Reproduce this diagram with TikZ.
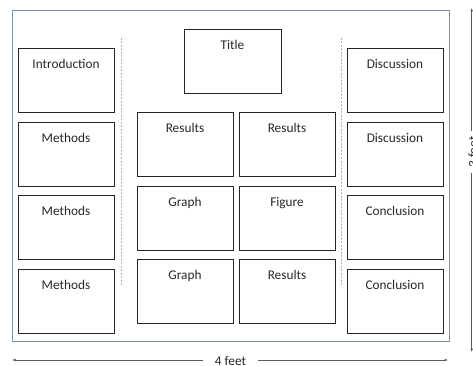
\documentclass[tikz,border=0pt]{standalone}
\usepackage{fontspec}
\setmainfont{Carlito}
\usetikzlibrary{arrows.meta}
\definecolor{framecol}{RGB}{128,146,166}
\definecolor{dimcol}{RGB}{90,90,90}
\definecolor{boxtext}{RGB}{40,40,40}
\tikzset{
  panel/.style={draw=black!85, line width=0.9pt, fill=white, anchor=north west,
    minimum width=96pt, minimum height=64pt, inner sep=0pt, outer sep=0pt},
  paneltext/.style={font=\fontsize{13.3}{16}\selectfont, text=boxtext},
  divider/.style={draw=black!30, line width=0.5pt, dash pattern=on 2pt off 1.5pt},
  dim/.style={draw=dimcol, line width=0.5pt, -{Latex[length=3.5pt,width=2.5pt]}},
  dimtext/.style={font=\fontsize{13.3}{16}\selectfont, text=boxtext}
}
\newcommand{\panelbox}[4]{%
  \node[panel] (#1) at (#2,#3) {};
  \node[paneltext, anchor=base] (#1t) at ([yshift=-20.5pt]#1.north) {#4};
}
\begin{document}
\begin{tikzpicture}[x=1pt,y=-1pt]
\useasboundingbox (0,0) rectangle (473,366);
\fill[white] (0,0) rectangle (473,366);
% outer frame
\draw[framecol, line width=1pt] (12,11) rectangle (449,341);
% dividers
\coordinate (d1a) at (121,38); \coordinate (d1b) at (121,285);
\coordinate (d2a) at (341,38); \coordinate (d2b) at (341,285);
\draw[divider] (d1a) -- (d1b);
\draw[divider] (d2a) -- (d2b);
% left column
\panelbox{intro}{18}{48}{Introduction}
\panelbox{meth1}{18}{122}{Methods}
\panelbox{meth2}{18}{195}{Methods}
\panelbox{meth3}{18}{269}{Methods}
% right column
\panelbox{disc1}{347}{48}{Discussion}
\panelbox{disc2}{347}{122}{Discussion}
\panelbox{conc1}{347}{195}{Conclusion}
\panelbox{conc2}{347}{269}{Conclusion}
% title
\node[panel, minimum width=97pt] (title) at (184,29) {};
\node[paneltext, anchor=base] (titlet) at ([yshift=-20.5pt]title.north) {Title};
% middle
\panelbox{res1}{137}{112}{Results}
\panelbox{res2}{239}{112}{Results}
\panelbox{graph1}{137}{186}{Graph}
\panelbox{fig1}{239}{186}{Figure}
\panelbox{graph2}{137}{259}{Graph}
\panelbox{res3}{239}{259}{Results}
% width dimension
\node[dimtext, inner xsep=12pt, inner ysep=2pt] (w4) at (230.5,360.5) {4 feet};
\coordinate (wl) at (12,360);
\coordinate (wr) at (448,360);
\draw[dim] (w4.west |- wl) -- (wl);
\draw[dim] (w4.east |- wr) -- (wr);
% height dimension
\node[dimtext, rotate=90, inner xsep=5pt, inner ysep=1pt] (h3) at (473,152) {3 feet};
\coordinate (ht) at (471.7,8);
\coordinate (hb) at (471.7,352);
\draw[dim] (h3.east -| ht) -- (ht);
\draw[dim] (h3.west -| hb) -- (hb);
\end{tikzpicture}
\end{document}
